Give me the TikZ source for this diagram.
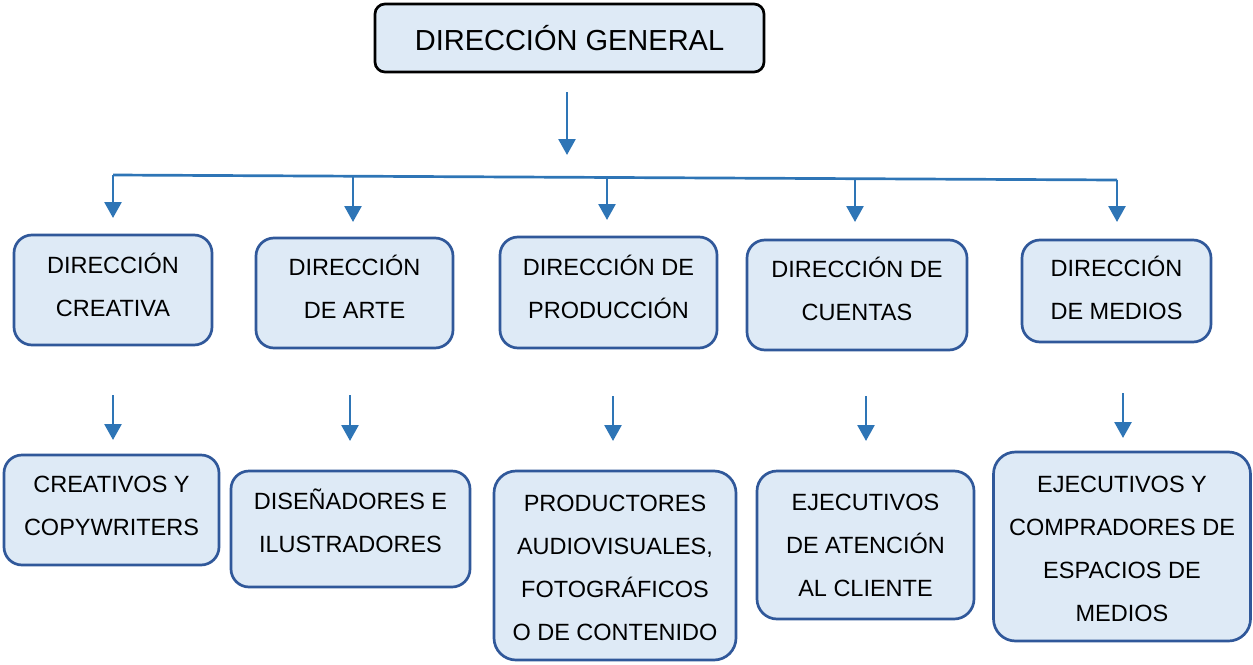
\documentclass[tikz,border=0pt]{standalone}
\usepackage{fontspec}
\setmainfont{Liberation Sans}
\usetikzlibrary{arrows.meta}
\definecolor{boxfill}{HTML}{DEEAF6}
\definecolor{boxline}{HTML}{30589A}
\definecolor{arrowc}{HTML}{2E75B6}
\newcommand{\boxtext}[2]{\raisebox{\dimexpr #1-5.875pt\relax}[0pt][0pt]{\begin{tabular}{@{}c@{}}#2\end{tabular}}}
\begin{document}
\begin{tikzpicture}[x=1pt,y=-1pt,
  unitbox/.style={draw=boxline, line width=2.7pt, fill=boxfill, rounded corners=18pt,
    inner sep=0pt, font=\fontsize{23.5}{43}\selectfont},
  topbox/.style={draw=black, line width=2.7pt, fill=boxfill, rounded corners=10pt,
    inner sep=0pt, font=\fontsize{29}{34}\selectfont},
  busline/.style={draw=arrowc, line width=2.7pt},
  conn/.style={draw=arrowc, line width=2.7pt, -{Triangle[width=17pt,length=16pt]}}]
\useasboundingbox (0,0) rectangle (1253,664);

% nodes
\node[topbox, minimum width=389pt, minimum height=68pt] (top) at (569.5,38) {\raisebox{1pt}{DIRECCIÓN GENERAL}};

\node[unitbox, minimum width=198pt, minimum height=110pt] (m1) at (113,290) {\boxtext{3.5pt}{DIRECCIÓN\\CREATIVA}};
\node[unitbox, minimum width=197pt, minimum height=110pt] (m2) at (354.5,293) {\boxtext{4pt}{DIRECCIÓN\\DE ARTE}};
\node[unitbox, minimum width=217pt, minimum height=111pt] (m3) at (608.5,292.5) {\boxtext{4pt}{DIRECCIÓN DE\\PRODUCCIÓN}};
\node[unitbox, minimum width=220pt, minimum height=110pt] (m4) at (857,295) {\boxtext{4pt}{DIRECCIÓN DE\\CUENTAS}};
\node[unitbox, minimum width=189pt, minimum height=102pt] (m5) at (1116.5,291) {\boxtext{1pt}{DIRECCIÓN\\DE MEDIOS}};

\node[unitbox, minimum width=215pt, minimum height=110pt] (b1) at (111.5,510) {\boxtext{4pt}{CREATIVOS Y\\COPYWRITERS}};
\node[unitbox, minimum width=239pt, minimum height=116pt] (b2) at (350.5,529) {\boxtext{6pt}{DISEÑADORES E\\ILUSTRADORES}};
\node[unitbox, rounded corners=22pt, minimum width=242pt, minimum height=189pt] (b3) at (615,565.5) {\boxtext{-2pt}{PRODUCTORES\\AUDIOVISUALES,\\FOTOGRÁFICOS\\O DE CONTENIDO}};
\node[unitbox, rounded corners=20pt, minimum width=217pt, minimum height=148pt] (b4) at (865.5,545) {\boxtext{0pt}{EJECUTIVOS\\DE ATENCIÓN\\AL CLIENTE}};
\node[unitbox, rounded corners=22pt, minimum width=257pt, minimum height=189pt] (b5) at (1122,546.5) {\boxtext{-2.5pt}{EJECUTIVOS Y\\COMPRADORES DE\\ESPACIOS DE\\MEDIOS}};

% connector coordinates
\coordinate (g0) at (567,92);
\coordinate (g1) at (567,155);
\coordinate (busL) at (113,175);
\coordinate (busR) at (1117,180);
\coordinate (d2) at (353,176.2);
\coordinate (d3) at (607,177.5);
\coordinate (d4) at (855,178.7);
\coordinate (t1) at (113,218);
\coordinate (t2) at (353,222);
\coordinate (t3) at (607,220);
\coordinate (t4) at (855,222);
\coordinate (t5) at (1117,222);

\coordinate (s1) at (113,395);  \coordinate (e1) at (113,440);
\coordinate (s2) at (350,395);  \coordinate (e2) at (350,441);
\coordinate (s3) at (613,396);  \coordinate (e3) at (613,441);
\coordinate (s4) at (866,396);  \coordinate (e4) at (866,441);
\coordinate (s5) at (1123,393); \coordinate (e5) at (1123,438);

% connectors
\draw[conn] (g0) -- (g1);
\draw[busline] (busL) -- (busR);
\draw[conn] (busL) -- (t1);
\draw[conn] (d2) -- (t2);
\draw[conn] (d3) -- (t3);
\draw[conn] (d4) -- (t4);
\draw[conn] (busR) -- (t5);

\draw[conn] (s1) -- (e1);
\draw[conn] (s2) -- (e2);
\draw[conn] (s3) -- (e3);
\draw[conn] (s4) -- (e4);
\draw[conn] (s5) -- (e5);
\end{tikzpicture}
\end{document}
